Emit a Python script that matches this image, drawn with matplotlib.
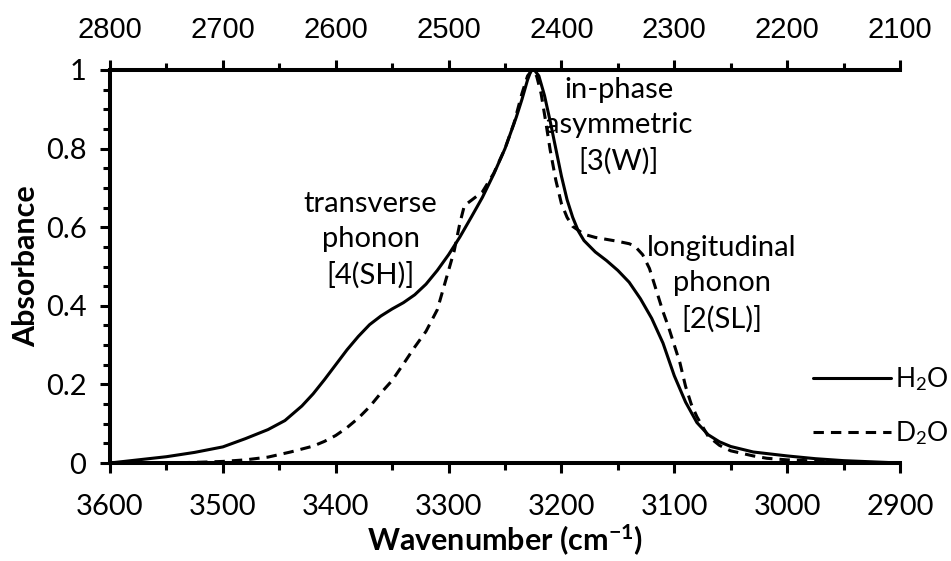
import matplotlib
matplotlib.use("Agg")
import matplotlib.pyplot as plt
from matplotlib.ticker import MultipleLocator, FixedLocator

plt.rcParams['font.family'] = ['Lato', 'DejaVu Sans']
plt.rcParams['mathtext.fontset'] = 'custom'
plt.rcParams['mathtext.rm'] = 'Lato'
plt.rcParams['mathtext.it'] = 'Lato:italic'
plt.rcParams['mathtext.bf'] = 'Lato:bold'

# O-H stretch band of H2O ice (bottom axis, cm-1)
h2o_wn = [3600, 3575, 3550, 3525, 3500, 3480, 3460, 3445, 3430, 3420, 3410,
          3400, 3390, 3380, 3370, 3360, 3350, 3340, 3330, 3320, 3310, 3300,
          3290, 3280, 3270, 3260, 3250, 3240, 3235, 3230, 3227, 3224, 3220,
          3215, 3210, 3205, 3200, 3195, 3190, 3185, 3180, 3170, 3160, 3150,
          3140, 3130, 3120, 3110, 3100, 3090, 3080, 3070, 3060, 3050, 3030,
          3000, 2975, 2950, 2925, 2900]
h2o_abs = [0.000, 0.008, 0.016, 0.027, 0.041, 0.062, 0.085, 0.108, 0.145, 0.176, 0.212,
           0.250, 0.288, 0.322, 0.352, 0.374, 0.392, 0.408, 0.428, 0.455, 0.490, 0.530,
           0.575, 0.625, 0.676, 0.735, 0.800, 0.880, 0.925, 0.975, 0.998, 1.000, 0.985,
           0.935, 0.870, 0.800, 0.730, 0.670, 0.625, 0.590, 0.566, 0.537, 0.515, 0.490,
           0.460, 0.418, 0.368, 0.305, 0.222, 0.155, 0.103, 0.072, 0.054, 0.042, 0.028,
           0.018, 0.011, 0.006, 0.003, 0.000]

# O-D stretch band of D2O ice, placed on the same scale via the top axis
d2o_wn = [3600, 3550, 3520, 3500, 3480, 3460, 3440, 3420, 3410, 3400, 3390,
          3380, 3370, 3360, 3350, 3340, 3330, 3320, 3310, 3300, 3295, 3290,
          3286, 3280, 3270, 3260, 3250, 3242, 3235, 3230, 3226, 3222, 3218,
          3214, 3210, 3205, 3200, 3195, 3190, 3180, 3170, 3160, 3150, 3140,
          3135, 3128, 3122, 3116, 3110, 3105, 3100, 3095, 3090, 3085, 3080,
          3070, 3060, 3050, 3030, 3018, 3000, 2975, 2950, 2900]
d2o_abs = [0.000, 0.000, 0.002, 0.004, 0.008, 0.015, 0.028, 0.043, 0.055, 0.070, 0.090,
           0.114, 0.143, 0.178, 0.210, 0.252, 0.295, 0.335, 0.390, 0.490, 0.540, 0.610,
           0.655, 0.668, 0.690, 0.737, 0.800, 0.865, 0.940, 0.985, 1.000, 0.985, 0.940,
           0.870, 0.797, 0.720, 0.660, 0.625, 0.602, 0.582, 0.574, 0.569, 0.564, 0.558,
           0.552, 0.530, 0.495, 0.440, 0.385, 0.345, 0.300, 0.255, 0.195, 0.150, 0.118,
           0.068, 0.045, 0.031, 0.018, 0.012, 0.008, 0.005, 0.002, 0.000]

bottom_ticks = [3600, 3500, 3400, 3300, 3200, 3100, 3000, 2900]
top_ticks = [2800, 2700, 2600, 2500, 2400, 2300, 2200, 2100]
y_ticks = [0, 0.2, 0.4, 0.6, 0.8, 1.0]
y_labels = ["0", "0.2", "0.4", "0.6", "0.8", "1"]

annotations = [
    ("transverse\nphonon\n[4(SH)]", 3369, 0.567),
    ("in-phase\nasymmetric\n[3(W)]", 3149, 0.858),
    ("longitudinal\nphonon\n[2(SL)]", 3058, 0.455),
]

FS = 21
FS_LABEL = 22
LW_AX = 2.9
LW_LINE = 2.2

fig = plt.figure(figsize=(9.51, 5.61), dpi=100)
ax = fig.add_axes([110/951, 1 - 463/561, 790/951, 393/561])

ax.plot(h2o_wn, h2o_abs, color='black', lw=LW_LINE, label='H$_2$O',
        solid_joinstyle='round', solid_capstyle='round')
ax.plot(d2o_wn, d2o_abs, color='black', lw=LW_LINE, label='D$_2$O',
        dashes=(3.4, 2.3), dash_capstyle='butt')

ax.set_xlim(3600, 2900)
ax.set_ylim(0, 1)

for side in ('left', 'bottom', 'top'):
    ax.spines[side].set_linewidth(LW_AX)
ax.spines['right'].set_visible(False)

ax.xaxis.set_major_locator(FixedLocator(bottom_ticks))
ax.xaxis.set_minor_locator(MultipleLocator(50))
ax.set_yticks(y_ticks)
ax.set_yticklabels(y_labels)
ax.yaxis.set_minor_locator(MultipleLocator(0.05))

ax.tick_params(axis='both', which='major', direction='out', length=7, width=2.2,
               labelsize=FS, colors='black')
ax.tick_params(axis='both', which='minor', direction='out', length=5, width=2.2)
ax.tick_params(axis='x', which='major', pad=15)
ax.tick_params(axis='y', which='major', pad=10)

ax.set_xlabel(r"Wavenumber (cm$^{\mathbf{-1}}$)", fontsize=FS_LABEL,
              fontweight='bold', labelpad=2)
ax.set_ylabel("Absorbance", fontsize=FS_LABEL, fontweight='bold', labelpad=4)

# Top axis: D2O wavenumbers
ax2 = ax.twiny()
ax2.set_xlim(2800, 2100)
ax2.set_xticks(top_ticks)
ax2.set_xticklabels([str(t) for t in top_ticks],
                    fontfamily=['Liberation Sans', 'DejaVu Sans'],
                    fontsize=21)
ax2.xaxis.set_minor_locator(MultipleLocator(50))
for s in ax2.spines.values():
    s.set_visible(False)
ax2.tick_params(axis='x', which='major', direction='out', length=7, width=2.2,
                pad=12)
ax2.tick_params(axis='x', which='minor', direction='out', length=5, width=2.2)

for txt, x, y in annotations:
    ax.text(x, y, txt, ha='center', va='center', fontsize=FS, linespacing=1.42)

leg = ax.legend(loc='center left', bbox_to_anchor=(0.89, 0.145), frameon=False,
                fontsize=19, handlelength=2.95, handletextpad=0.15,
                labelspacing=1.0, borderpad=0, borderaxespad=0)

fig.savefig("out.png", dpi=100)
